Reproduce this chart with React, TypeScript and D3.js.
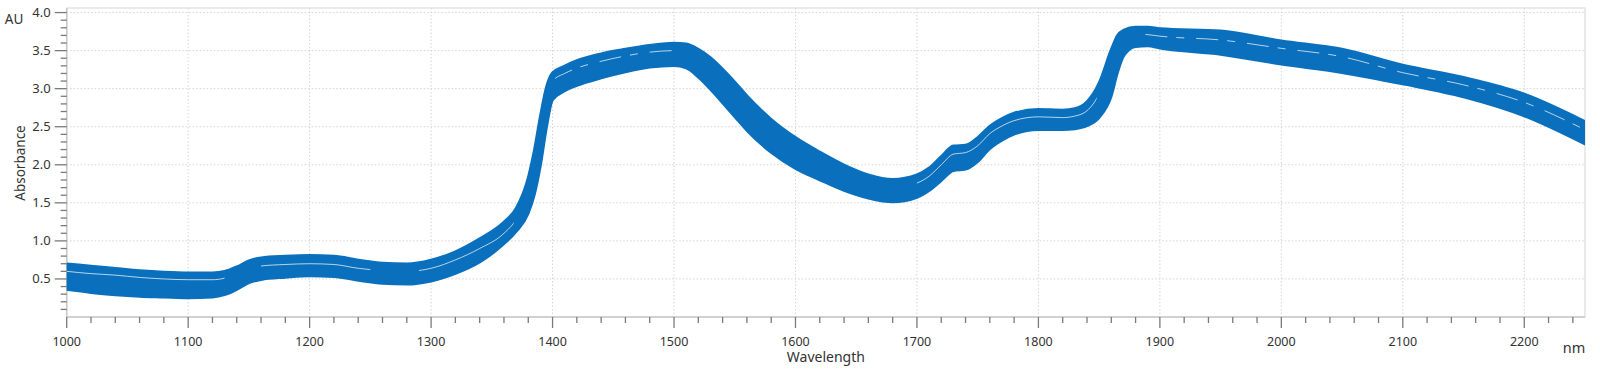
import React from "react";
import * as d3 from "d3";

const wavelengths = [1000,1020,1040,1060,1080,1100,1120,1130,1140,1150,1160,1180,1200,1220,1240,1260,1280,1300,1320,1340,1360,1370,1380,1385,1390,1395,1400,1410,1420,1440,1460,1480,1500,1510,1520,1530,1540,1550,1560,1580,1600,1620,1640,1660,1680,1700,1710,1720,1730,1740,1750,1760,1770,1780,1800,1820,1830,1840,1850,1860,1865,1870,1880,1890,1900,1950,2000,2050,2100,2150,2200,2250];

const upperSpectrum = [0.70,0.67,0.64,0.61,0.59,0.58,0.58,0.60,0.66,0.74,0.78,0.80,0.81,0.80,0.75,0.71,0.70,0.75,0.86,1.03,1.25,1.43,1.84,2.20,2.65,3.03,3.21,3.30,3.37,3.46,3.52,3.57,3.60,3.59,3.52,3.41,3.26,3.09,2.91,2.60,2.36,2.17,2.00,1.87,1.81,1.87,1.96,2.11,2.25,2.26,2.36,2.51,2.61,2.68,2.73,2.72,2.74,2.83,3.08,3.52,3.70,3.77,3.81,3.81,3.79,3.76,3.63,3.52,3.31,3.15,2.93,2.57];

const lowerSpectrum = [0.36,0.32,0.29,0.27,0.26,0.25,0.26,0.29,0.36,0.45,0.49,0.52,0.54,0.53,0.48,0.44,0.43,0.47,0.57,0.72,0.96,1.12,1.36,1.60,1.98,2.48,2.85,2.97,3.04,3.14,3.22,3.28,3.30,3.27,3.15,2.99,2.81,2.63,2.45,2.16,1.95,1.80,1.66,1.56,1.51,1.57,1.66,1.79,1.92,1.94,2.04,2.21,2.32,2.40,2.46,2.46,2.47,2.51,2.62,2.90,3.20,3.42,3.55,3.56,3.53,3.45,3.32,3.21,3.06,2.89,2.64,2.27];

const gapSpectrum = [0.60,0.57,0.55,0.52,0.50,0.49,0.49,0.51,0.57,0.64,0.67,0.69,0.70,0.69,0.64,0.61,0.60,0.64,0.75,0.90,1.10,1.28,1.62,1.95,2.40,2.82,3.10,3.20,3.27,3.36,3.43,3.48,3.50,3.48,3.40,3.27,3.10,2.92,2.74,2.43,2.20,2.02,1.87,1.76,1.70,1.76,1.85,2.00,2.14,2.16,2.25,2.41,2.51,2.58,2.63,2.62,2.64,2.71,2.93,3.34,3.57,3.66,3.72,3.71,3.69,3.64,3.53,3.42,3.21,3.05,2.82,2.46];

// wavelength spans where the white streak between spectra shows, and whether it is broken
const gapSpans: [number, number, boolean][] = [
  [1000, 1130, false],
  [1160, 1250, false],
  [1290, 1368, false],
  [1402, 1500, true],
  [1700, 1848, false],
  [1880, 2250, true],
];

const xMajorTicks = [1000,1100,1200,1300,1400,1500,1600,1700,1800,1900,2000,2100,2200];
const yMajorTicks = [0.5,1.0,1.5,2.0,2.5,3.0,3.5,4.0];

const W = 1600, H = 378;
const L = 66.7, R = 1585, T = 8, B = 317;
const BLUE = "#0a70bd";
const FONT = "'Noto Sans', 'Open Sans', Arial, sans-serif";

export default function App() {
  const x = d3.scaleLinear().domain([1000, 2250]).range([L, R]);
  const y = d3.scaleLinear().domain([0, 4.06]).range([B, T]);

  const xMinor = d3.range(1000, 2251, 20).filter((v) => v % 100 !== 0);
  const yMinor = d3.range(1, 41).map((v) => v / 10).filter((v) => Math.round(v * 10) % 5 !== 0);

  const idx = wavelengths.map((_, i) => i);
  const area = d3
    .area<number>()
    .x((i) => x(wavelengths[i]))
    .y0((i) => y(lowerSpectrum[i]))
    .y1((i) => y(upperSpectrum[i]))
    .curve(d3.curveMonotoneX);
  const gapLine =
    d3
      .line<number>()
      .x((i) => x(wavelengths[i]))
      .y((i) => y(gapSpectrum[i]))
      .curve(d3.curveMonotoneX)(idx) || "";

  return (
    <div style={{ position: "fixed", left: 0, top: 0 }}>
      <svg width={W} height={H} style={{ display: "block", background: "#fff" }}>
        <defs>
          <clipPath id="plot">
            <rect x={L} y={T} width={R - L} height={B - T} />
          </clipPath>
          {gapSpans.map(([a, b], k) => (
            <clipPath id={"gap" + k} key={"gc" + k}>
              <rect x={x(a)} y={T} width={x(b) - x(a)} height={B - T} />
            </clipPath>
          ))}
        </defs>
        {/* grid */}
        {xMajorTicks.map((t) => (
          <line key={"gx" + t} x1={x(t)} x2={x(t)} y1={T} y2={B} stroke="#d4d4d4" strokeDasharray="1.5,2" />
        ))}
        {yMajorTicks.map((t) => (
          <line key={"gy" + t} x1={L} x2={R} y1={y(t)} y2={y(t)} stroke="#d4d4d4" strokeDasharray="1.5,2" />
        ))}
        {/* frame */}
        <rect x={L} y={T} width={R - L} height={B - T} fill="none" stroke="#dcdcdc" strokeWidth={1.2} />
        <line x1={L} x2={R} y1={B} y2={B} stroke="#c8c8c8" strokeWidth={1.5} />
        <line x1={L} x2={L} y1={T} y2={B} stroke="#c8c8c8" strokeWidth={1.5} />

        {/* data */}
        <g clipPath="url(#plot)">
          <path d={area(idx) || ""} fill={BLUE} stroke={BLUE} strokeWidth={2.5} strokeLinejoin="round" />
          {gapSpans.map(([, , broken], k) => (
            <path
              key={"gp" + k}
              d={gapLine}
              clipPath={`url(#gap${k})`}
              fill="none"
              stroke="#ffffff"
              strokeOpacity={0.7}
              strokeWidth={1}
              strokeDasharray={broken ? "22,9,8,12" : undefined}
            />
          ))}
        </g>

        {/* x ticks */}
        {xMinor.map((t) => (
          <line key={"xm" + t} x1={x(t)} x2={x(t)} y1={B} y2={B + 6} stroke="#7a7a7a" strokeWidth={1.3} />
        ))}
        {xMajorTicks.map((t) => (
          <g key={"xt" + t}>
            <line x1={x(t)} x2={x(t)} y1={B} y2={B + 11} stroke="#7a7a7a" strokeWidth={1.3} />
            <text x={x(t)} y={345.5} textAnchor="middle" fontFamily={FONT} fontSize={12.5} fill="#333">
              {t}
            </text>
          </g>
        ))}
        {/* y ticks */}
        {yMinor.map((t) => (
          <line key={"ym" + t} x1={L - 6} x2={L} y1={y(t)} y2={y(t)} stroke="#7a7a7a" strokeWidth={1.3} />
        ))}
        {yMajorTicks.map((t) => (
          <g key={"yt" + t}>
            <line x1={L - 12} x2={L} y1={y(t)} y2={y(t)} stroke="#7a7a7a" strokeWidth={1.3} />
            <text x={L - 16} y={y(t) + 4.5} textAnchor="end" fontFamily={FONT} fontSize={13} fill="#333">
              {t.toFixed(1)}
            </text>
          </g>
        ))}
        <text x={14} y={24} textAnchor="middle" fontFamily={FONT} fontSize={13.5} fill="#333">AU</text>
        <text x={0} y={0} transform={`translate(25,163) rotate(-90)`} textAnchor="middle" fontFamily={FONT} fontSize={13.5} fill="#333">
          Absorbance
        </text>
        <text x={(L + R) / 2} y={362} textAnchor="middle" fontFamily={FONT} fontSize={14} fill="#333">Wavelength</text>
        <text x={1574} y={353} textAnchor="middle" fontFamily={FONT} fontSize={14.5} fill="#333">nm</text>
      </svg>
    </div>
  );
}
